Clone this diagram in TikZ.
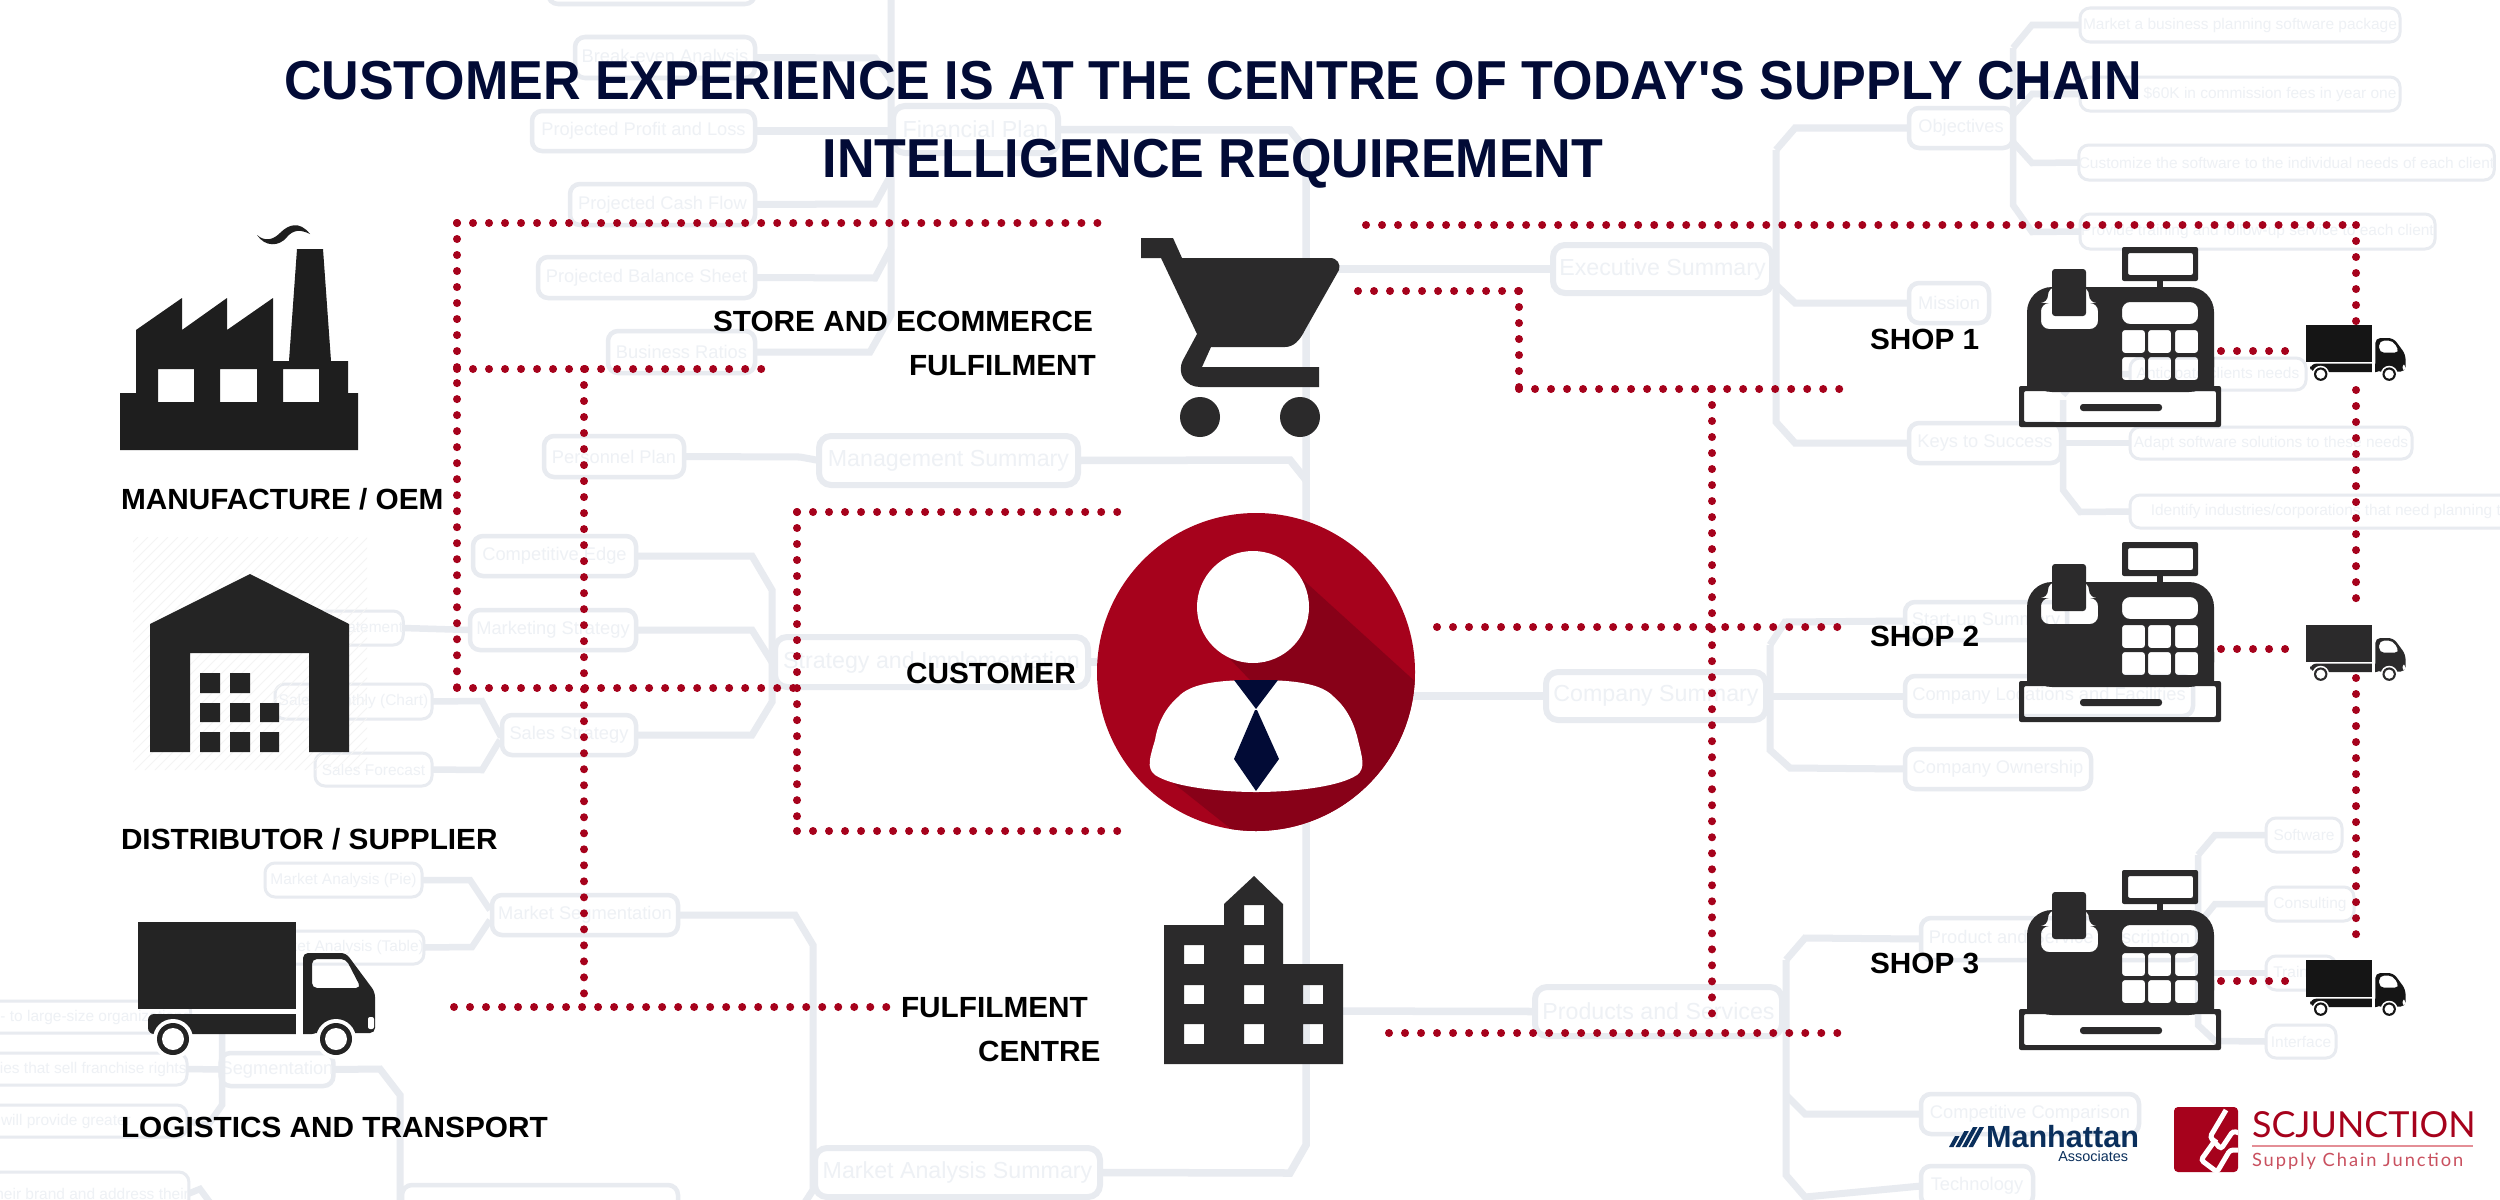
\documentclass[tikz,border=0pt]{standalone}
\usepackage{fontspec}
\setmainfont{Liberation Sans}
\newfontfamily\logofont{Lato}
\newfontfamily\logospaced{Lato}[LetterSpace=10.7]
\newfontfamily\ttlfont{Liberation Sans}[FakeStretch=0.948,Ligatures=TeXOff]
\newfontfamily\labfont{Liberation Sans}[FakeStretch=1.02]
\usetikzlibrary{calc}
\definecolor{navy}{HTML}{020B36}
\definecolor{crimson}{HTML}{A6021C}
\definecolor{deepred}{HTML}{880118}
\definecolor{bgline}{HTML}{E8EBF0}
\definecolor{bgtext}{HTML}{EEF1F5}
\definecolor{iconA}{HTML}{2B2A2B}
\definecolor{iconB}{HTML}{1E1E1E}
\definecolor{iconC}{HTML}{242424}
\definecolor{iconD}{HTML}{151515}
\definecolor{manh}{HTML}{0A2F5C}
\definecolor{scrule}{HTML}{E48E96}
\definecolor{sctext}{HTML}{C9505F}
\definecolor{hatchc}{HTML}{F4F4F4}
\newcommand{\bx}[7]{%
  \pgfmathsetmacro\bxw{#5-#3}\pgfmathsetmacro\bxh{#6-#4}%
  \pgfmathsetmacro\bxx{(#3+#5)/2}\pgfmathsetmacro\bxy{(#4+#6)/2}%
  \node[#2,minimum width=\bxw*0.01cm,minimum height=\bxh*0.01cm] (#1) at (\bxx,\bxy) {#7};}
\tikzset{
  every node/.style={inner sep=0pt,outer sep=0pt},
  bone/.style={draw=bgline,line width=.06cm,rounded corners=.12cm,text=bgtext,font=\fontsize{6.6}{8}\selectfont},
  btwo/.style={draw=bgline,line width=.045cm,rounded corners=.1cm,text=bgtext,font=\fontsize{5.2}{6}\selectfont},
  bthr/.style={draw=bgline,line width=.03cm,rounded corners=.1cm,text=bgtext,font=\fontsize{4.4}{6}\selectfont},
  lkone/.style={draw=bgline,line width=.075cm},
  lktwo/.style={draw=bgline,line width=.07cm},
  lkthr/.style={draw=bgline,line width=.065cm},
  dots/.style={draw=crimson,line width=.08cm,line cap=round,dash pattern=on 0pt off .16cm},
  lab/.style={anchor=base west,text=black,font=\labfont\fontsize{8.3}{10}\bfseries\selectfont},
  ttl/.style={anchor=base,text=navy,font=\ttlfont\fontsize{15.6}{18}\bfseries\selectfont},
  pics/truck/.style={code={
    \fill[#1] (0,0) rectangle (158,87);
    \fill[#1,rounded corners=.06cm] (10,92) rectangle (180,112);
    \fill[white] (158,88) rectangle (165,115);
    \fill[#1,even odd rule] [rounded corners=.05cm] (165,111) -- (165,31) -- (208,31) -- (237,70) -- (237,111) -- cycle
       (174,37) -- (174,66) -- (223,66) -- (208,37) -- cycle;
    \fill[white,rounded corners=.02cm] (230,95) rectangle (236,107);
    \foreach \wx in {35,198} {
      \fill[white] (\wx,117) circle[radius=20];
      \fill[#1] (\wx,117) circle[radius=16];
      \fill[white] (\wx,117) circle[radius=11];}
  }},
  pics/register/.style={code={
    \fill[iconA,even odd rule]
      [rounded corners=.25cm] (8,145) -- (8,40) -- (195,40) -- (195,145) -- cycle
      [rounded corners=.08cm] (29,40) -- (29,56) -- (22,56) -- (22,82) -- (79,82) -- (79,56) -- (70,56) -- (70,40) -- cycle
      (103,55) rectangle (179,77)
      [rounded corners=.03cm]
      (103,83) rectangle (126,106) (129,83) rectangle (152,106) (156,83) rectangle (179,106)
      (103,110) rectangle (126,133) (129,110) rectangle (152,133) (156,110) rectangle (179,133);
    \fill[iconA] (8,110) rectangle (40,142) (181,110) rectangle (195,142);
    \fill[iconA,rounded corners=.03cm] (33,22) rectangle (67,69);
    \fill[iconA,even odd rule,rounded corners=.02cm] (103,0) rectangle (179,34) (109,6) rectangle (174,28);
    \fill[iconA] (138,34) rectangle (144,40);
    \fill[iconA,even odd rule,rounded corners=.02cm] (0,139) rectangle (202,180) (5,144) rectangle (197,175);
    \fill[iconA,rounded corners=.03cm] (61,157) rectangle (143,164);
  }},
}
\begin{document}
\begin{tikzpicture}[x=.01cm,y=-.01cm]
\clip (0,0) rectangle (2500,1200);
\fill[white] (0,0) rectangle (2500,1200);

% ---------- faint background mind map ----------
\bx{top}{btwo}{548}{-40}{755}{4}{}
\bx{brk}{btwo}{575}{37}{755}{78}{Break-even Analysis}
\bx{ppl}{btwo}{532}{111}{755}{151}{Projected Profit and Loss}
\bx{fin}{bone}{893}{106}{1058}{153}{Financial Plan}
\bx{pcf}{btwo}{570}{184}{755}{225}{Projected Cash Flow}
\bx{pbs}{btwo}{538}{257}{755}{298}{Projected Balance Sheet}
\bx{bra}{btwo}{608}{331}{755}{373}{Business Ratios}
\bx{per}{btwo}{544}{436}{684}{477}{Personnel Plan}
\bx{mgt}{bone}{819}{436}{1078}{485}{Management Summary}
\bx{ced}{btwo}{473}{536}{636}{576}{Competitive Edge}
\bx{mkt}{btwo}{470}{610}{636}{650}{Marketing Strategy}
\bx{pos}{bthr}{255}{611}{401}{645}{Positioning Statement}
\bx{str}{bone}{775}{637}{1088}{687}{Strategy and Implementation}
\bx{smc}{bthr}{275}{684}{432}{719}{Sales Monthly (Chart)}
\bx{sst}{btwo}{502}{715}{636}{755}{Sales Strategy}
\bx{sfc}{bthr}{315}{753}{432}{786}{Sales Forecast}
\bx{map}{bthr}{265}{863}{422}{897}{Market Analysis (Pie)}
\bx{mse}{btwo}{492}{895}{678}{935}{Market Segmentation}
\bx{mat}{bthr}{265}{931}{422}{964}{Market Analysis (Table)}
\bx{rwa}{bthr}{-51}{1001}{187}{1033}{medium- to large-size organizations}
\bx{rwb}{bthr}{-59}{1053}{187}{1085}{Companies that sell franchise rights}
\bx{rwc}{bthr}{-55}{1105}{187}{1137}{will provide greater}
\bx{rwd}{bthr}{-7}{1172}{187}{1215}{their brand and address their}
\bx{seg}{btwo}{223}{1053}{331}{1086}{Segmentation}
\bx{mas}{bone}{815}{1148}{1100}{1197}{Market Analysis Summary}
\bx{bot}{btwo}{402}{1185}{678}{1240}{}
\bx{exe}{bone}{1553}{245}{1772}{293}{Executive Summary}
\bx{obj}{btwo}{1909}{108}{2013}{148}{Objectives}
\bx{msn}{btwo}{1909}{283}{1989}{323}{Mission}
\bx{key}{btwo}{1909}{423}{2061}{463}{Keys to Success}
\bx{oba}{bthr}{2080}{8}{2400}{42}{Market a business planning software package}
\bx{obb}{bthr}{2080}{77}{2400}{111}{\hspace*{.6cm}\$60K in commission fees in year one}
\bx{obc}{bthr}{2080}{145}{2493}{180}{Customize the software to the individual needs of each client}
\bx{obd}{bthr}{2080}{214}{2435}{249}{Provide training and follow-up service to each client}
\bx{kya}{bthr}{2130}{358}{2306}{390}{Anticipate clients needs}
\bx{kyb}{bthr}{2130}{427}{2412}{459}{Adapt software solutions to these needs}
\bx{kyc}{bthr}{2130}{495}{2550}{528}{Identify industries/corporations that need planning tools}
\bx{cos}{bone}{1546}{672}{1766}{720}{Company Summary}
\bx{sup}{btwo}{1905}{602}{2067}{640}{Start-up Summary}
\bx{clo}{btwo}{1905}{676}{2193}{716}{Company Locations and Facilities}
\bx{cow}{btwo}{1905}{749}{2091}{789}{Company Ownership}
\bx{pds}{bone}{1535}{987}{1782}{1036}{Products and Services}
\bx{psd}{btwo}{1921}{918}{2198}{960}{Product and Service Description}
\bx{cmp}{btwo}{1921}{1094}{2139}{1134}{Competitive Comparison}
\bx{tec}{btwo}{1921}{1166}{2033}{1206}{Technology}
\bx{sft}{bthr}{2266}{818}{2342}{852}{Software}
\bx{cns}{bthr}{2266}{887}{2354}{921}{Consulting}
\bx{trn}{bthr}{2266}{956}{2336}{990}{Training}
\bx{itf}{bthr}{2266}{1025}{2336}{1058}{Interface}

% main spine
\draw[lkone] (fin.east) -- (1290,130) -- (1306,150) -- (1306,1145) -- (1290,1173) -- (mas.east);
\draw[lkone] (mgt.east) -- (1290,460) -- (1306,480);
\draw[lkone] (str.east) -- (1306,662);
\draw[lkone] (1306,269) -- (exe.west);
\draw[lkone] (1306,696) -- (cos.west);
\draw[lkone] (1306,1011) -- (pds.west);
% financial plan
\draw[lktwo] (891,-5) -- (891,315) -- (870,352) -- (bra.east);
\draw[lktwo] (ppl.east) -- (891,131);
\draw[lktwo] (brk.east) -- (875,58) -- (891,80);
\draw[lktwo] (pcf.east) -- (875,204) -- (891,175);
\draw[lktwo] (pbs.east) -- (875,278) -- (891,248);
\draw[lktwo] (per.east) -- (800,457) -- (mgt.west);
% strategy
\draw[lktwo] (ced.east) -- (752,556) -- (772,590) -- (772,702) -- (752,735) -- (sst.east);
\draw[lktwo] (mkt.east) -- (752,630) -- (772,662);
\draw[lkthr] (pos.east) -- (mkt.west);
\draw[lkthr] (smc.east) -- (482,701) -- (500,735) -- (sst.west);
\draw[lkthr] (sfc.east) -- (482,770) -- (500,740);
% market analysis
\draw[lktwo] (mse.east) -- (795,915) -- (813,945) -- (813,1190) -- (800,1210);
\draw[lkthr] (map.east) -- (470,880) -- (490,910);
\draw[lkthr] (mat.east) -- (472,947) -- (490,920);
\draw[lktwo] (seg.east) -- (380,1069) -- (400,1095) -- (400,1200);
\draw[lkthr] (rwb.east) -- (seg.west);
\draw[lkthr] (222,1032) -- (222,1105) -- (208,1125) -- (rwc.east);
\draw[lkthr] (rwd.east) -- (200,1189) -- (214,1208);
% executive summary
\draw[lktwo] (1776,150) -- (1776,422) -- (1795,443) -- (key.west);
\draw[lktwo] (1776,150) -- (1795,128) -- (obj.west);
\draw[lktwo] (1776,285) -- (1795,303) -- (msn.west);
\draw[lkthr] (2013,48) -- (2032,25) -- (oba.west);
\draw[lkthr] (2013,48) -- (2013,205) -- (2032,232) -- (obd.west);
\draw[lkthr] (2013,115) -- (2032,94) -- (obb.west);
\draw[lkthr] (2013,142) -- (2032,163) -- (obc.west);
\draw[lkthr] (key.east) -- (kyb.west);
\draw[lkthr] (2063,400) -- (2063,490) -- (2080,512) -- (kyc.west);
\draw[lkthr] (2063,395) -- (2080,375) -- (kya.west);
% company summary
\draw[lktwo] (1770,645) -- (1785,622) -- (sup.west);
\draw[lktwo] (1770,645) -- (1770,750) -- (1790,768) -- (cow.west);
\draw[lktwo] (cos.east) -- (clo.west);
% products and services
\draw[lktwo] (1786,960) -- (1805,938) -- (psd.west);
\draw[lktwo] (1786,960) -- (1786,1175) -- (1805,1197) -- (tec.west);
\draw[lktwo] (1786,1095) -- (1805,1114) -- (cmp.west);
\draw[lkthr] (2198,855) -- (2215,835) -- (sft.west);
\draw[lkthr] (2198,855) -- (2198,1025) -- (2215,1041) -- (itf.west);
\draw[lkthr] (2198,925) -- (2215,904) -- (cns.west);
\draw[lkthr] (2198,973) -- (trn.west);

% hatch behind warehouse
\begin{scope}
\clip (133,537) rectangle (367,770);
\foreach \hx in {-125,-115,...,365} \draw[hatchc,line width=.01cm] (\hx,770) -- (\hx+233,537);
\end{scope}

% ---------- dotted connectors ----------
\coordinate (aa) at (457,223); \coordinate (ab) at (1100,223);
\coordinate (ac) at (457,369); \coordinate (ad) at (777,369);
\coordinate (ae) at (457,688); \coordinate (af) at (797,688);
\coordinate (ag) at (584,369); \coordinate (ah) at (584,1007);
\coordinate (ai) at (454,1007); \coordinate (aj) at (891,1007);
\coordinate (ak) at (797,512); \coordinate (al) at (1118,512);
\coordinate (am) at (797,831); \coordinate (an) at (1118,831);
\coordinate (ba) at (1366,225); \coordinate (bb) at (2356,225);
\coordinate (bc) at (2356,322); \coordinate (bd) at (2356,390);
\coordinate (be) at (2356,614); \coordinate (bf) at (2356,678);
\coordinate (bg) at (2356,950);
\coordinate (ca) at (1358,291); \coordinate (cb) at (1519,291);
\coordinate (cc) at (1519,389); \coordinate (cd) at (1841,389);
\coordinate (ce) at (1712,389); \coordinate (cf) at (1712,1017);
\coordinate (cg) at (1437,627); \coordinate (ch) at (1841,627);
\coordinate (ci) at (1389,1033); \coordinate (cj) at (1844,1033);
\coordinate (ta) at (2221,351); \coordinate (tb) at (2300,351);
\coordinate (tc) at (2221,649); \coordinate (td) at (2300,649);
\coordinate (te) at (2221,981); \coordinate (tf) at (2300,981);
\draw[dots] (aa) -- (ab);
\draw[dots] (aa) -- (ae);
\draw[dots] (ac) -- (ad);
\draw[dots] (ae) -- (af);
\draw[dots] (ag) -- (ah);
\draw[dots] (ai) -- (aj);
\draw[dots] (ak) -- (al);
\draw[dots] (ak) -- (am);
\draw[dots] (am) -- (an);
\draw[dots] (ba) -- (bb);
\draw[dots] (bb) -- (bc);
\draw[dots] (bd) -- (be);
\draw[dots] (bf) -- (bg);
\draw[dots] (ca) -- (cb);
\draw[dots] (cb) -- (cc);
\draw[dots] (cc) -- (cd);
\draw[dots] (ce) -- (cf);
\draw[dots] (cg) -- (ch);
\draw[dots] (ci) -- (cj);
\draw[dots] (ta) -- (tb);
\draw[dots] (tc) -- (td);
\draw[dots] (te) -- (tf);

% ---------- factory ----------
\fill[iconB,even odd rule] (120,450) -- (120,393) -- (136,393) -- (136,330) -- (182,298) -- (182,330) -- (227,298) -- (227,330) -- (273,298) -- (273,361) -- (289,361) -- (297,249) -- (323,249) -- (331,361) -- (348,361) -- (348,393) -- (358,393) -- (358,450) -- cycle
  (158,369) rectangle (194,402) (220,369) rectangle (257,402) (283,369) rectangle (319,402);
\fill[iconB] (257,235) .. controls (264,241) and (272,241) .. (280,233) .. controls (288,225) and (299,220) .. (310,234) .. controls (300,229) and (293,230) .. (287,237) .. controls (279,247) and (265,247) .. (257,235) -- cycle;
% ---------- warehouse ----------
\fill[iconC] (150,752) -- (150,624) -- (250,574) -- (349,624) -- (349,752) -- (309,752) -- (309,653) -- (190,653) -- (190,752) -- cycle;
\fill[iconC] (200,673) rectangle (220,693) (230,673) rectangle (250,693)
  (200,703) rectangle (220,722) (230,703) rectangle (250,722) (260,703) rectangle (279,722)
  (200,732) rectangle (220,752) (230,732) rectangle (250,752) (260,732) rectangle (279,752);
% ---------- trucks ----------
\pic at (138,922) {truck={iconC}};
\pic[scale=.42] at (2306,325) {truck={iconD}};
\pic[scale=.42] at (2306,625) {truck={iconA}};
\pic[scale=.42] at (2306,960) {truck={iconD}};
% ---------- registers ----------
\pic at (2019,247) {register};
\pic at (2019,542) {register};
\pic at (2019,870) {register};
% ---------- cart ----------
\fill[iconA] (1141,238) -- (1173,238) -- (1182,258) -- (1330,258) .. controls (1337,258) and (1341,264) .. (1339,270) -- (1305,330) .. controls (1300,340) and (1294,347) .. (1285,347) -- (1211,347) -- (1202,367) -- (1319,367) -- (1319,387) -- (1200,387) .. controls (1186,387) and (1176,374) .. (1183,360) -- (1197,334) -- (1161,258) -- (1141,258) -- cycle;
\fill[iconA] (1200,417) circle[radius=20] (1300,417) circle[radius=20];
% ---------- customer ----------
\fill[crimson] (1256,672) circle[radius=159];
\begin{scope}
\clip (1256,672) circle[radius=159];
\fill[deepred] (1300,577) -- (1430,695) -- (1430,860) -- (1240,836) -- (1167,778) -- (1250,680) -- (1230,659) -- cycle;
\end{scope}
\fill[white] (1253,607) circle[radius=56];
\fill[white] (1256,680) .. controls (1215,680) and (1190,684) .. (1178,697) .. controls (1163,710) and (1157,727) .. (1155,740) .. controls (1150,757) and (1146,768) .. (1155,775) .. controls (1175,788) and (1225,792) .. (1256,792) .. controls (1287,792) and (1337,788) .. (1357,775) .. controls (1366,768) and (1362,757) .. (1358,740) .. controls (1355,727) and (1349,710) .. (1334,697) .. controls (1322,684) and (1297,680) .. (1256,680) -- cycle;
\fill[navy] (1234,680) -- (1278,680) -- (1256,709) -- cycle;
\fill[navy] (1255,710) -- (1257,710) -- (1279,759) -- (1256,791) -- (1234,759) -- cycle;
% ---------- building ----------
\fill[iconA,even odd rule] (1164,1064) -- (1164,925) -- (1224,925) -- (1224,904) -- (1254,876) -- (1283,904) -- (1283,964) -- (1343,964) -- (1343,1064) -- cycle
  (1244,905) rectangle (1264,925)
  (1184,945) rectangle (1204,964) (1244,945) rectangle (1264,964)
  (1184,985) rectangle (1204,1004) (1244,985) rectangle (1264,1004) (1303,985) rectangle (1323,1004)
  (1184,1024) rectangle (1204,1044) (1244,1024) rectangle (1264,1044) (1303,1024) rectangle (1323,1044);

% ---------- title and labels ----------
\node[ttl] (tla) at (1213,99) {CUSTOMER EXPERIENCE IS AT THE CENTRE OF TODAY'S SUPPLY CHAIN};
\node[ttl] (tlb) at (1213,177) {INTELLIGENCE REQUIREMENT};
\node[lab] (lmf) at (121,509) {MANUFACTURE / OEM};
\node[lab] (lds) at (121,849) {DISTRIBUTOR / SUPPLIER};
\node[lab] (llg) at (121,1137) {LOGISTICS AND TRANSPORT};
\node[lab] (lse) at (713,331) {STORE AND ECOMMERCE};
\node[lab] (lsf) at (909,375) {FULFILMENT};
\node[lab] (lcu) at (906,683) {CUSTOMER};
\node[lab] (lfa) at (901,1017) {FULFILMENT};
\node[lab] (lfb) at (978,1061) {CENTRE};
\node[lab] (lsa) at (1870,349) {SHOP 1};
\node[lab] (lsb) at (1870,646) {SHOP 2};
\node[lab] (lsc) at (1870,973) {SHOP 3};

% ---------- logos ----------
\foreach \mi/\mh in {0/11,1/16,2/20,3/20} {
  \fill[manh] (1949+6.5*\mi,1147) -- (1953.5+6.5*\mi,1147) -- (1953.5+6.5*\mi+\mh*.55,1147-\mh) -- (1949+6.5*\mi+\mh*.55,1147-\mh) -- cycle;}
\node[anchor=base west,text=manh,font=\fontsize{8.7}{10}\bfseries\selectfont] (mna) at (1986,1147) {Manhattan};
\node[anchor=base east,text=manh,font=\fontsize{4.1}{5}\selectfont] (mnb) at (2128,1161) {Associates};
\fill[crimson,rounded corners=.04cm] (2174,1107) rectangle (2238,1172);
\begin{scope}
\clip (2174,1107) rectangle (2238,1172);
\draw[white,line width=.05cm,rounded corners=.03cm] (2226,1110) -- (2210,1137) -- (2221,1149) -- (2233,1131) -- (2242,1134);
\draw[white,line width=.05cm,rounded corners=.03cm] (2216,1139) -- (2201,1160) -- (2217,1172) -- (2230,1150) -- (2242,1150);
\end{scope}
\node[anchor=base west,text=crimson,font=\logofont\fontsize{10.2}{11}\selectfont] (sca) at (2252,1137) {SCJUNCTION};
\coordinate (ra) at (2252,1146); \coordinate (rb) at (2473,1146);
\draw[scrule,line width=.012cm] (ra) -- (rb);
\node[anchor=base west,text=sctext,font=\logospaced\fontsize{5.2}{6}\selectfont] (scb) at (2252,1166) {Supply Chain Junction};
\end{tikzpicture}
\end{document}
